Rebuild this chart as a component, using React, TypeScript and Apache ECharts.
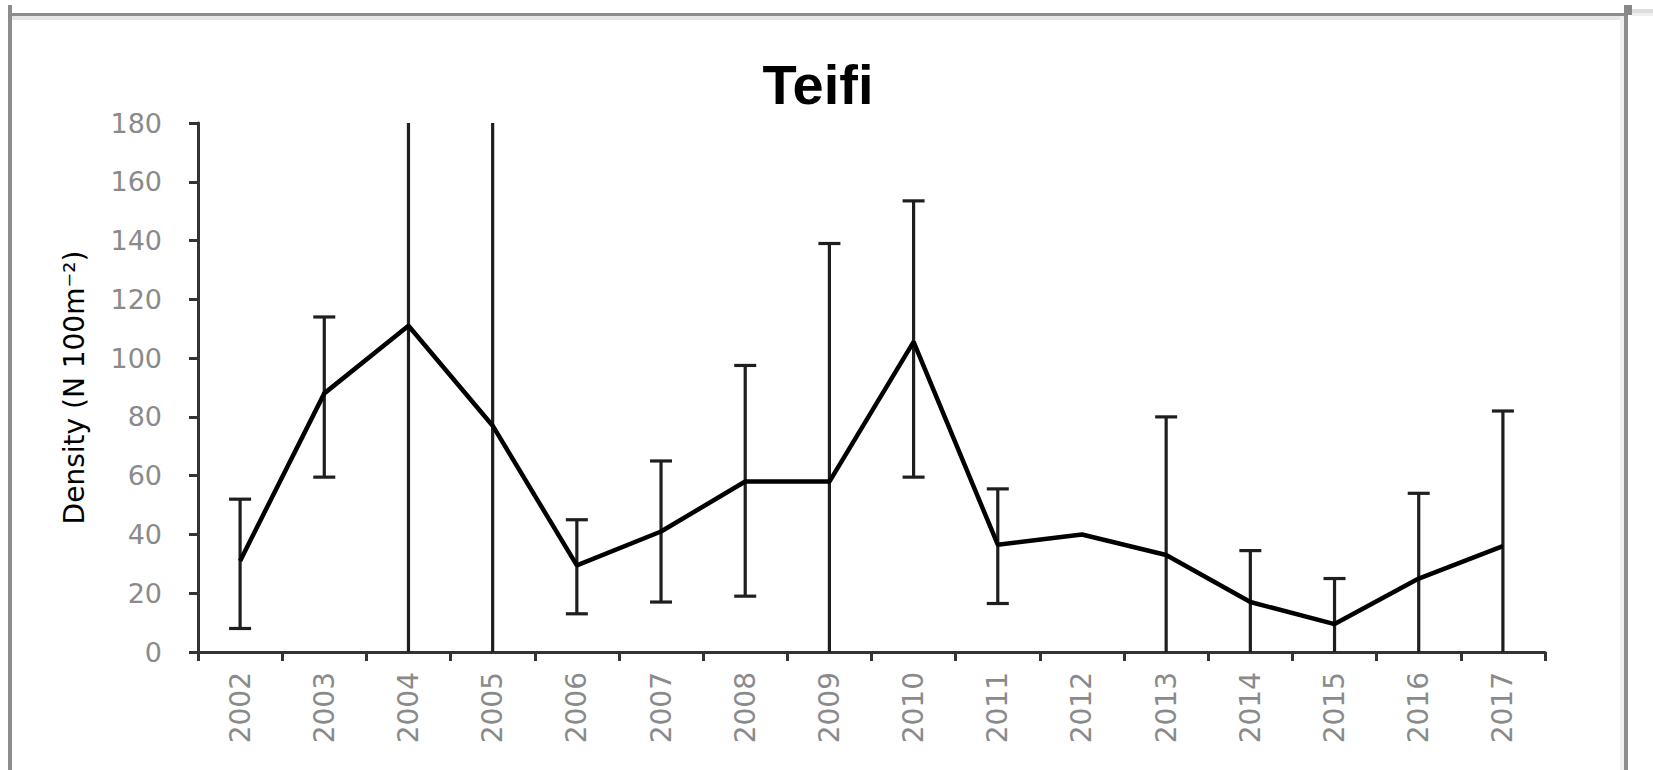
import React, { useEffect, useRef } from "react";
import * as echarts from "echarts";

const years = ["2002", "2003", "2004", "2005", "2006", "2007", "2008", "2009", "2010", "2011", "2012", "2013", "2014", "2015", "2016", "2017"];
const density = [31, 88, 111, 77, 29.5, 41, 58, 58, 105.5, 36.5, 40, 33, 17, 9.5, 25, 36];
const upper: (number | null)[] = [52, 114, 225, 200, 45, 65, 97.5, 139, 153.5, 55.5, null, 80, 34.5, 25, 54, 82];
const lower: (number | null)[] = [8, 59.5, 0, 0, 13, 17, 19, 0, 59.5, 16.5, null, 0, 0, 0, 0, 0];
const yTicks = [0, 20, 40, 60, 80, 100, 120, 140, 160, 180];

const Y_MIN = yTicks[0];
const Y_MAX = yTicks[yTicks.length - 1];
const AXIS_COLOR = "#333333";
const LABEL_COLOR = "#8a8a8a";

export default function App() {
  const ref = useRef<HTMLDivElement>(null);

  useEffect(() => {
    if (!ref.current) return;
    const chart = echarts.init(ref.current, null, { renderer: "svg" });

    const errData: number[][] = [];
    years.forEach((_, i) => {
      if (upper[i] != null && lower[i] != null) {
        errData.push([i, lower[i] as number, upper[i] as number]);
      }
    });

    const frameGray = "#8c8c8c";

    chart.setOption({
      animation: false,
      backgroundColor: "#ffffff",
      grid: { left: 198, right: 108, top: 123, bottom: 118, containLabel: false },
      xAxis: {
        type: "category",
        data: years,
        boundaryGap: true,
        axisLine: { show: true, lineStyle: { color: AXIS_COLOR, width: 3 } },
        axisTick: { show: true, inside: false, length: 9, alignWithLabel: false, lineStyle: { color: AXIS_COLOR, width: 3 } },
        axisLabel: {
          rotate: 90,
          margin: 20,
          color: LABEL_COLOR,
          fontFamily: "DejaVu Sans",
          fontSize: 28,
        },
        splitLine: { show: false },
      },
      yAxis: {
        type: "value",
        min: Y_MIN,
        max: Y_MAX,
        interval: 20,
        name: "Density (N 100m\u207B\u00B2)",
        nameLocation: "middle",
        nameRotate: 90,
        nameGap: 110,
        nameTextStyle: { color: "#000000", fontFamily: "DejaVu Sans", fontSize: 28 },
        axisLine: { show: true, lineStyle: { color: AXIS_COLOR, width: 3 } },
        axisTick: { show: true, inside: false, length: 9, lineStyle: { color: AXIS_COLOR, width: 3 } },
        axisLabel: {
          margin: 36,
          color: LABEL_COLOR,
          fontFamily: "DejaVu Sans",
          fontSize: 27,
        },
        splitLine: { show: false },
      },
      graphic: {
        elements: [
          { type: "rect", shape: { x: 8, y: 5, width: 4, height: 765 }, style: { fill: frameGray }, silent: true },
          { type: "rect", shape: { x: 12, y: 13, width: 1612, height: 3 }, style: { fill: frameGray }, silent: true },
          { type: "rect", shape: { x: 12, y: 16, width: 1608, height: 4 }, style: { fill: "#e6e6e6" }, silent: true },
          { type: "rect", shape: { x: 1620, y: 16, width: 4, height: 754 }, style: { fill: "#efefef" }, silent: true },
          { type: "rect", shape: { x: 1624, y: 5, width: 4, height: 765 }, style: { fill: frameGray }, silent: true },
          { type: "rect", shape: { x: 1624, y: 5, width: 8, height: 10 }, style: { fill: "#888888" }, silent: true },
          { type: "rect", shape: { x: 1632, y: 9, width: 21, height: 4 }, style: { fill: "#dddddd" }, silent: true },
          { type: "rect", shape: { x: 1632, y: 13, width: 21, height: 3 }, style: { fill: "#eeeeee" }, silent: true },
          {
            type: "text",
            x: 818,
            y: 84,
            style: {
              text: "Teifi",
              textAlign: "center",
              textVerticalAlign: "middle",
              font: 'bold 56px "Liberation Sans", Arial, sans-serif',
              fill: "#000000",
            },
            silent: true,
          },
        ],
      },
      series: [
        {
          type: "custom",
          name: "error",
          data: errData,
          z: 3,
          renderItem: (params: any, api: any) => {
            const x = api.value(0);
            const lo = api.value(1);
            const hi = api.value(2);
            const hiC = Math.min(hi, Y_MAX);
            const loC = Math.max(lo, Y_MIN);
            const pTop = api.coord([x, hiC]);
            const pBot = api.coord([x, loC]);
            const half = 11;
            const style = { stroke: "#1e1e1e", lineWidth: 3.2 };
            const children: any[] = [
              { type: "line", shape: { x1: pTop[0], y1: pTop[1], x2: pBot[0], y2: pBot[1] }, style },
            ];
            if (hi <= Y_MAX) {
              children.push({ type: "line", shape: { x1: pTop[0] - half, y1: pTop[1], x2: pTop[0] + half, y2: pTop[1] }, style });
            }
            if (lo > Y_MIN) {
              children.push({ type: "line", shape: { x1: pBot[0] - half, y1: pBot[1], x2: pBot[0] + half, y2: pBot[1] }, style });
            }
            return { type: "group", children };
          },
        },
        {
          type: "line",
          name: "Density",
          data: density,
          z: 5,
          symbol: "none",
          lineStyle: { color: "#000000", width: 4.5 },
          itemStyle: { color: "#000000" },
        },
      ],
    });

    return () => chart.dispose();
  }, []);

  return (
    <div
      ref={ref}
      style={{ position: "fixed", left: 0, top: 0, width: 1653, height: 770, background: "#ffffff" }}
    />
  );
}
